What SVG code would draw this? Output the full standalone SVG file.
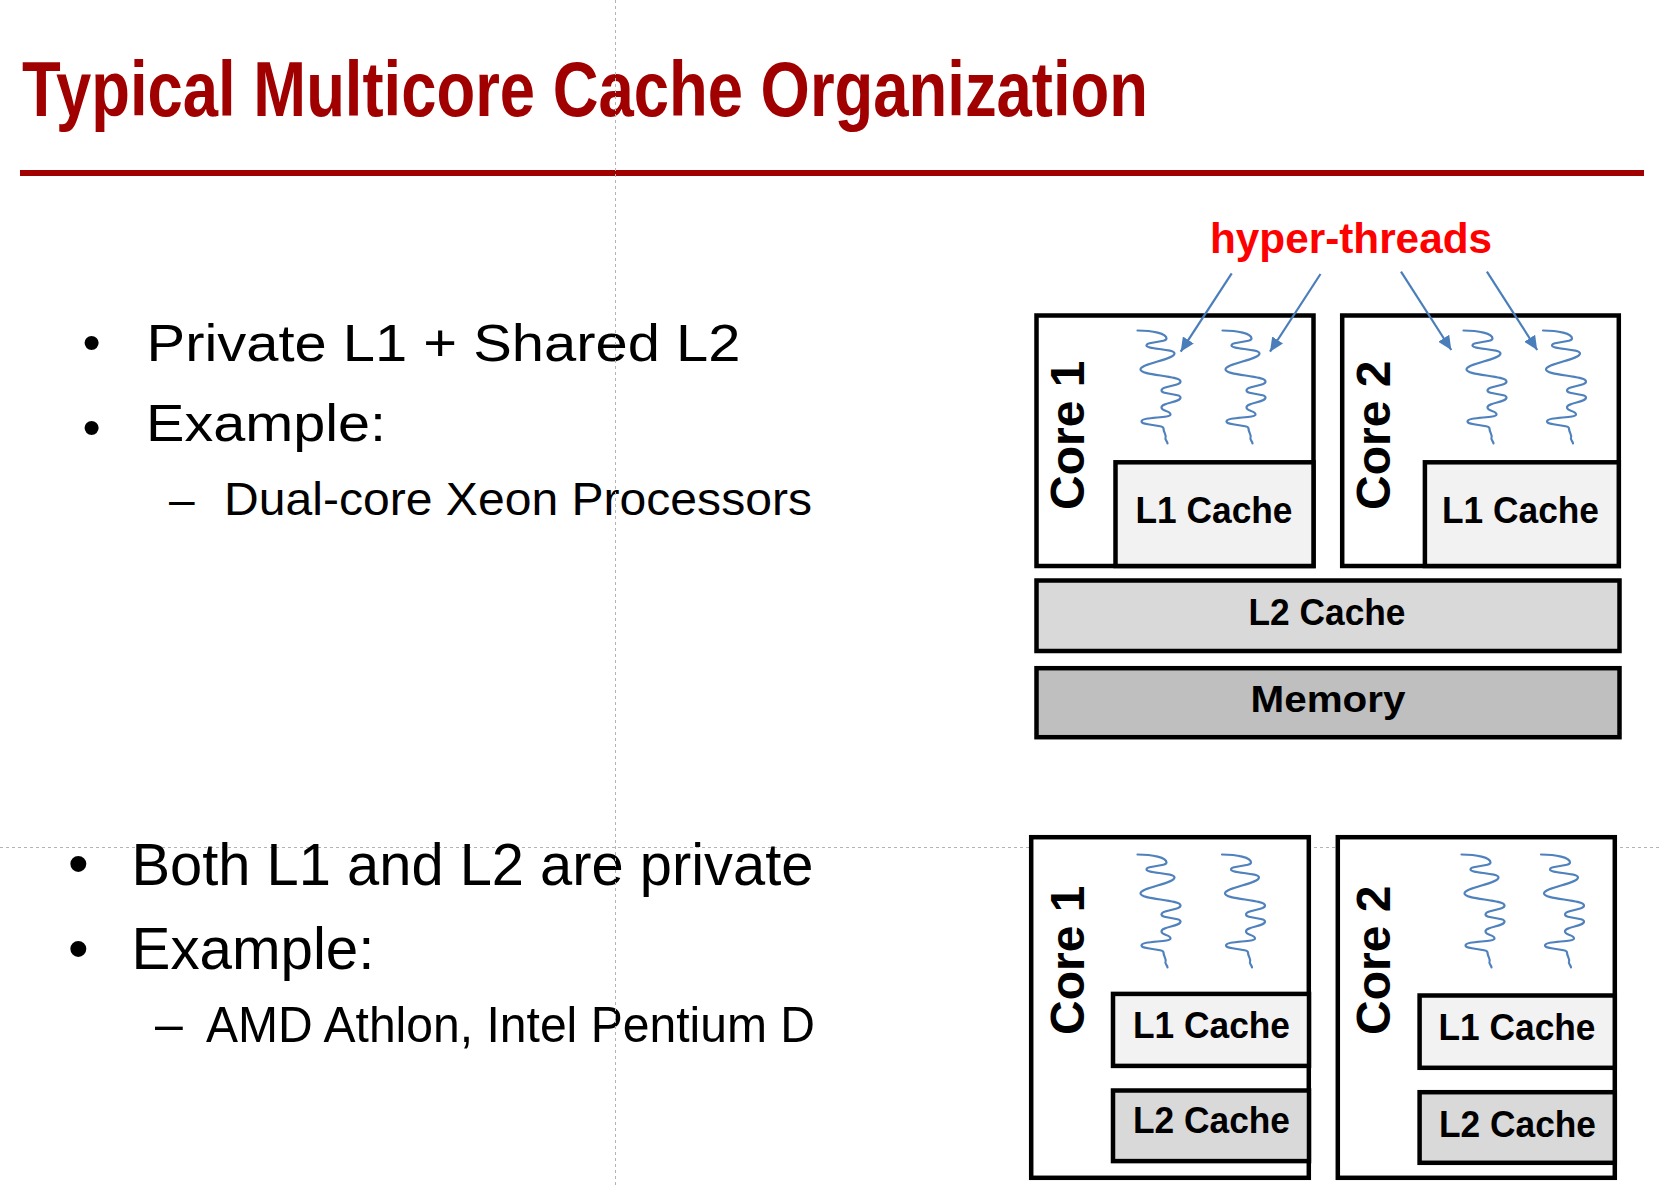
<svg xmlns="http://www.w3.org/2000/svg" xmlns:xlink="http://www.w3.org/1999/xlink" width="1661" height="1187" viewBox="0 0 1661 1187">
<style>
.guide{stroke:#b4b4b4;stroke-width:1;stroke-dasharray:3 3;fill:none}
.box{stroke:#000;stroke-width:4.5;stroke-linejoin:miter}
.core{fill:#fff}
.l1{fill:#f2f2f2}
.l2{fill:#d9d9d9}
.mem{fill:#bfbfbf}
.lbl{font-family:"Liberation Sans",Arial,sans-serif;font-weight:bold;font-size:37px;fill:#000}
.corelbl{font-family:"Liberation Sans",Arial,sans-serif;font-weight:bold;font-size:48px;fill:#000}
.thread{fill:none;stroke:#4f81bd;stroke-width:2.2;stroke-linecap:round;stroke-linejoin:round}
.arrow{fill:none;stroke:#4a7ebb;stroke-width:2.2}
.body{font-family:"Liberation Sans",Arial,sans-serif;fill:#000}
</style>
<defs>
<path id="thr" d="M0,0 C15,0 29,3 29,8 C29,12 9,11 9,15 C9,19 37,18 37,23 C37,29 3,33 3,39 C3,45 43,45 43,51 C43,56 24,55 24,60 C24,64 43,63 43,67 C43,72 24,72 24,77 C24,81 33,80 33,84 C33,88 4,86 4,91 C4,95 26,94 26,98 C26,102 29,104 28,107 C27,109 30,111 30,113"/>
<marker id="ah" markerUnits="userSpaceOnUse" markerWidth="15" markerHeight="13" refX="14" refY="6.5" orient="auto">
<path d="M0,0 L14,6.5 L0,13 z" fill="#4a7ebb"/>
</marker>
</defs>
<rect x="0" y="0" width="1661" height="1187" fill="#fff"/>
<g id="guides">
<line class="guide" x1="0" y1="847.5" x2="1661" y2="847.5"/>
</g>
<g id="title">
<text x="22" y="115.5" font-family="'Liberation Sans Narrow','Liberation Sans',Arial,sans-serif" font-weight="bold" font-size="77" fill="#a00000" textLength="1126" lengthAdjust="spacingAndGlyphs">Typical Multicore Cache Organization</text>
<rect x="20" y="170" width="1624" height="6" fill="#a00000"/>
</g>
<g id="text-top" class="body">
<text x="91.7" y="360" font-size="52" text-anchor="middle">•</text>
<text x="146.5" y="361" font-size="52" textLength="594" lengthAdjust="spacingAndGlyphs">Private L1 + Shared L2</text>
<text x="91.7" y="445" font-size="52" text-anchor="middle">•</text>
<text x="146" y="441" font-size="52" textLength="240" lengthAdjust="spacingAndGlyphs">Example:</text>
<text x="169" y="515" font-size="46">–</text>
<text x="224" y="515" font-size="46" textLength="588" lengthAdjust="spacingAndGlyphs">Dual-core Xeon Processors</text>
</g>
<g id="text-bottom" class="body">
<text x="78.3" y="884" font-size="59" text-anchor="middle">•</text>
<text x="131.5" y="885" font-size="59" textLength="682" lengthAdjust="spacingAndGlyphs">Both L1 and L2 are private</text>
<text x="78.3" y="969" font-size="59" text-anchor="middle">•</text>
<text x="131.5" y="969" font-size="59" textLength="243" lengthAdjust="spacingAndGlyphs">Example:</text>
<text x="155" y="1041" font-size="50">–</text>
<text x="206" y="1041.5" font-size="50" textLength="609" lengthAdjust="spacingAndGlyphs">AMD Athlon, Intel Pentium D</text>
</g>
<g id="top-core1">
<rect class="box core" x="1036.5" y="315.5" width="277" height="250.5"/>
<rect class="box l1" x="1115.5" y="462.3" width="198" height="103.7"/>
<text class="lbl" x="1135.5" y="522.7" textLength="157" lengthAdjust="spacingAndGlyphs">L1 Cache</text>
<text class="corelbl" transform="translate(1084,510) rotate(-90)">Core 1</text>
<use xlink:href="#thr" href="#thr" class="thread" transform="translate(1137.5,330.5)"/>
<use xlink:href="#thr" href="#thr" class="thread" transform="translate(1222.5,330.5)"/>
</g>
<g id="top-core2">
<rect class="box core" x="1342.2" y="315.5" width="276.6" height="250.5"/>
<rect class="box l1" x="1424.9" y="462.3" width="193.9" height="103.7"/>
<text class="lbl" x="1442" y="522.7" textLength="157" lengthAdjust="spacingAndGlyphs">L1 Cache</text>
<text class="corelbl" transform="translate(1390,510) rotate(-90)">Core 2</text>
<use xlink:href="#thr" href="#thr" class="thread" transform="translate(1463.5,330.5)"/>
<use xlink:href="#thr" href="#thr" class="thread" transform="translate(1543,330.5)"/>
</g>
<g id="top-l2">
<rect class="box l2" x="1036.5" y="580.5" width="583" height="70.5"/>
<text class="lbl" x="1248.5" y="625" textLength="157" lengthAdjust="spacingAndGlyphs">L2 Cache</text>
</g>
<g id="top-memory">
<rect class="box mem" x="1036.5" y="668.2" width="583" height="69"/>
<text class="lbl" x="1250.5" y="711.7" textLength="155" lengthAdjust="spacingAndGlyphs">Memory</text>
</g>
<g id="hyper-threads-label">
<text x="1210" y="253" font-family="'Liberation Sans',Arial,sans-serif" font-weight="bold" font-size="43" fill="#ff0000" textLength="282" lengthAdjust="spacingAndGlyphs">hyper-threads</text>
</g>
<g id="connectors">
<line class="arrow" x1="1231.7" y1="273.3" x2="1180.7" y2="351.7" marker-end="url(#ah)"/>
<line class="arrow" x1="1320.5" y1="274" x2="1270" y2="351.7" marker-end="url(#ah)"/>
<line class="arrow" x1="1401" y1="271.7" x2="1451.3" y2="350" marker-end="url(#ah)"/>
<line class="arrow" x1="1486.9" y1="271.7" x2="1537.2" y2="350" marker-end="url(#ah)"/>
</g>
<g id="bottom-core1">
<rect class="box core" x="1031.2" y="837.2" width="277.6" height="340.6"/>
<rect class="box l1" x="1113" y="993.9" width="196" height="72"/>
<text class="lbl" x="1133" y="1038" textLength="157" lengthAdjust="spacingAndGlyphs">L1 Cache</text>
<rect class="box l2" x="1113" y="1090.5" width="196" height="70.6"/>
<text class="lbl" x="1133" y="1133" textLength="157" lengthAdjust="spacingAndGlyphs">L2 Cache</text>
<text class="corelbl" transform="translate(1083.5,1035) rotate(-90)">Core 1</text>
<use xlink:href="#thr" href="#thr" class="thread" transform="translate(1137.5,854.5)"/>
<use xlink:href="#thr" href="#thr" class="thread" transform="translate(1222,854.5)"/>
</g>
<g id="bottom-core2">
<rect class="box core" x="1337.8" y="837.2" width="277" height="340.6"/>
<rect class="box l1" x="1419.6" y="995.5" width="195.2" height="72.3"/>
<text class="lbl" x="1438.5" y="1040" textLength="157" lengthAdjust="spacingAndGlyphs">L1 Cache</text>
<rect class="box l2" x="1419.6" y="1092.2" width="195.2" height="70.6"/>
<text class="lbl" x="1439" y="1136.7" textLength="157" lengthAdjust="spacingAndGlyphs">L2 Cache</text>
<text class="corelbl" transform="translate(1390,1035) rotate(-90)">Core 2</text>
<use xlink:href="#thr" href="#thr" class="thread" transform="translate(1461.5,854.5)"/>
<use xlink:href="#thr" href="#thr" class="thread" transform="translate(1541,854.5)"/>
</g>
<g id="guides-top">
<line class="guide" x1="615.5" y1="0" x2="615.5" y2="1187"/>
</g>
</svg>
